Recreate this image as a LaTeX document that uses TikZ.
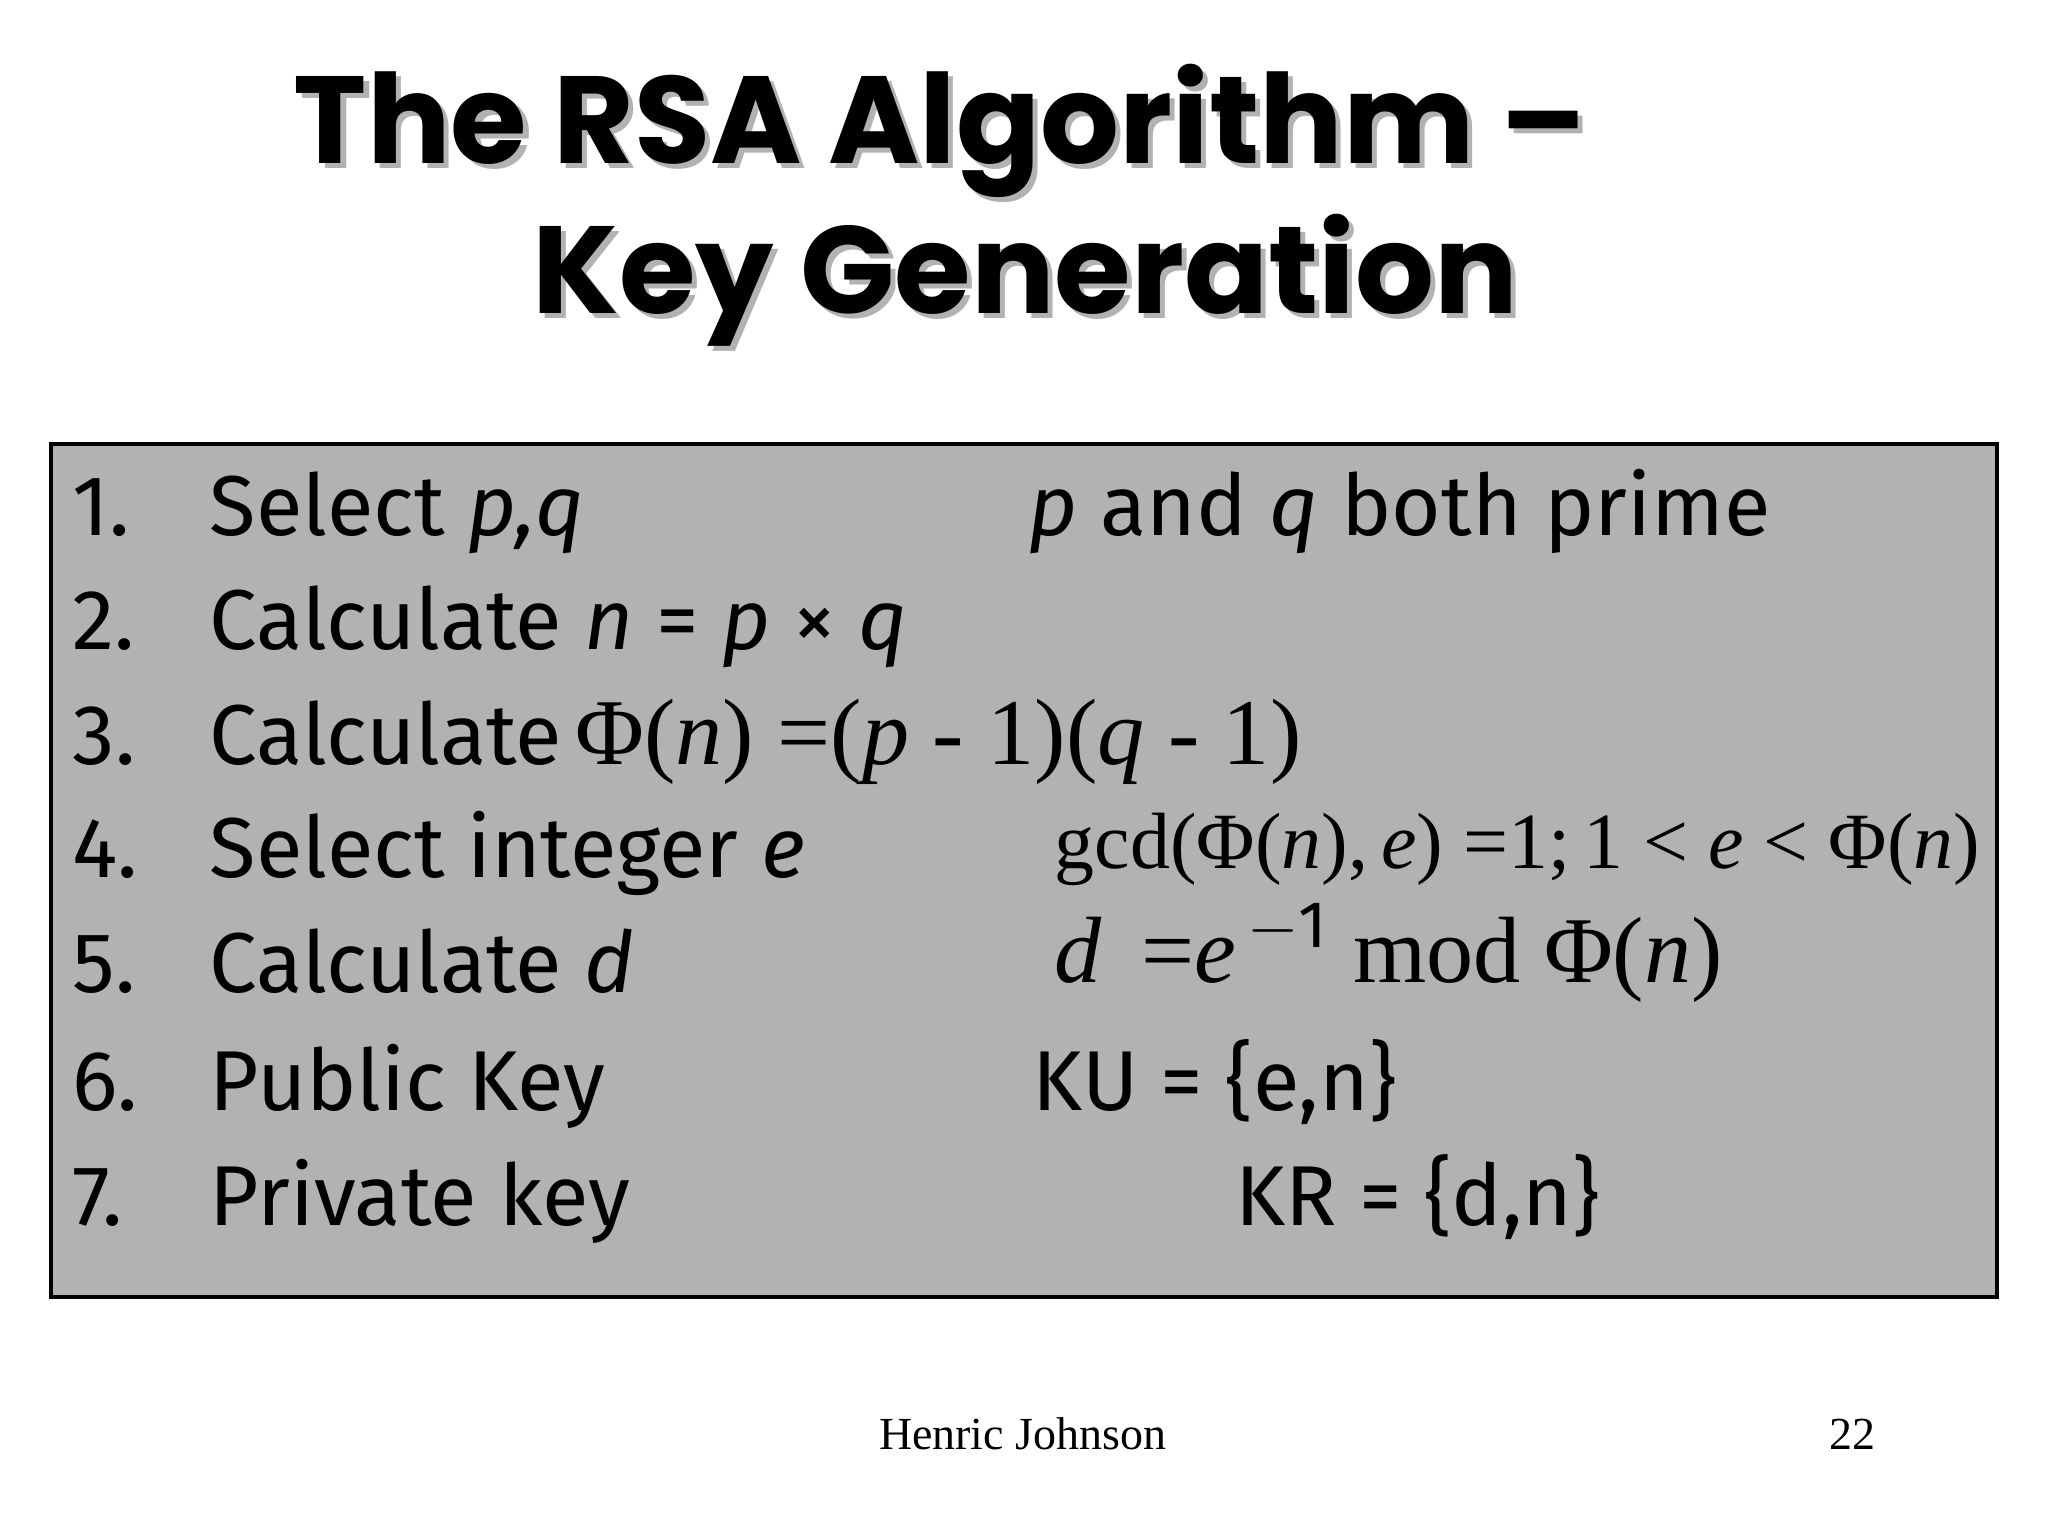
\documentclass[tikz,border=0pt]{standalone}
\usepackage{fontspec}
\usepackage{graphicx}
\setmainfont{Fira Sans}
\newfontfamily\serf{Liberation Serif}
\newfontfamily\ttl{Poppins}
\begin{document}
\begin{tikzpicture}[x=0.01cm,y=-0.01cm,
  txt/.style={anchor=base west,inner sep=0,font=\fontsize{18.5}{22}\selectfont},
  mth/.style={anchor=base west,inner sep=0,font=\serf\fontsize{20.5}{24}\selectfont},
  tl/.style={inner sep=0,anchor=base,font=\ttl\bfseries\fontsize{27}{32}\selectfont}]
\useasboundingbox (0,0) rectangle (1568,1176);
\fill[white] (0,0) rectangle (1568,1176);
\node[tl,gray!60] at (724,129) {The RSA Algorithm –};
\node[tl] (t1) at (720,125) {The RSA Algorithm –};
\node[tl,gray!60] at (789,244) {Key Generation};
\node[tl] (t2) at (785,240) {Key Generation};
\draw[fill=black!30,line width=0.8pt] (39,340) rectangle (1529,993);
\foreach \n/\y in {1/410,2/497,3/585,4/672,5/760,6/850,7/938}
  \node[txt] (n\n) at (55,\y) {\n.};
\node[txt] (a1) at (160,410) {Select \textit{p,q}};
\node[txt] (b1) at (787,410) {\textit{p} and \textit{q} both prime};
\node[txt] (a2) at (160,497) {Calculate \textit{n} = \textit{p} × \textit{q}};
\node[txt] (a3) at (160,585) {Calculate};
\node[mth] (m3) at (440,585) {Φ(\textit{n}) =(\textit{p} - 1)(\textit{q} - 1)};
\node[txt] (a4) at (160,672) {Select integer \textit{e}};
\node[mth] (m4) at (807,665) {\resizebox{7.08cm}{!}{gcd(Φ(\textit{n}),\,\textit{e}) =1;\,1 < \textit{e} < Φ(\textit{n})}};
\node[txt] (a5) at (160,760) {Calculate \textit{d}};
\node[mth] (m5) at (807,752) {\textit{d} \,=\textit{e}$^{\,\mathrm{-1}}$ mod Φ(\textit{n})};
\node[txt] (a6) at (160,850) {Public Key};
\node[txt] (b6) at (790,850) {KU = \{e,n\}};
\node[txt] (a7) at (160,938) {Private key};
\node[txt] (b7) at (945,938) {KR = \{d,n\}};
\node[anchor=base,inner sep=0,font=\serf\fontsize{10}{12}\selectfont] (f1) at (783,1110) {Henric Johnson};
\node[anchor=base,inner sep=0,font=\serf\fontsize{10}{12}\selectfont] (f2) at (1418,1110) {22};
\end{tikzpicture}
\end{document}
